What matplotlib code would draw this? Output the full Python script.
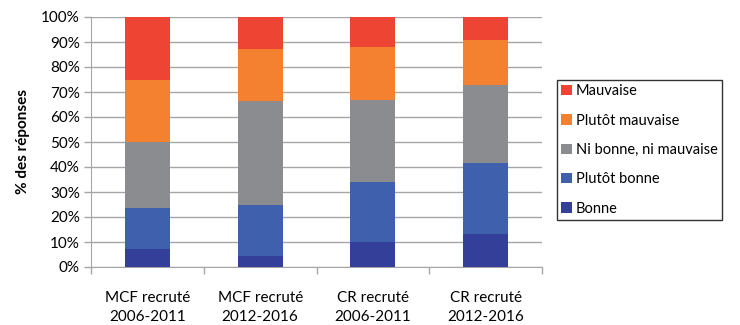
import numpy as np
import matplotlib.pyplot as plt

plt.rcParams['font.family'] = ['Lato', 'DejaVu Sans']

categories = ['MCF recruté\n2006-2011', 'MCF recruté\n2012-2016',
              'CR recruté\n2006-2011', 'CR recruté\n2012-2016']
series = ['Bonne', 'Plutôt bonne', 'Ni bonne, ni mauvaise', 'Plutôt mauvaise', 'Mauvaise']
bonne = [7.1, 4.3, 9.9, 13.2]
plutot_bonne = [16.6, 20.7, 24.3, 28.3]
ni_ni = [26.2, 41.6, 32.7, 31.5]
plutot_mauvaise = [24.8, 20.8, 21.1, 17.8]
mauvaise = [25.3, 12.6, 12.0, 9.2]
colors = ['#343f99', '#3f60ad', '#8b8c90', '#f48130', '#ee4434']

values = [bonne, plutot_bonne, ni_ni, plutot_mauvaise, mauvaise]

fig = plt.figure(figsize=(7.4, 3.25), dpi=100)
ax = fig.add_axes([91/740, 58/325, 451/740, 250/325])

x = np.arange(len(categories))
bottom = np.zeros(len(categories))
handles = []
for name, vals, c in zip(series, values, colors):
    b = ax.bar(x, vals, 0.4, bottom=bottom, color=c, label=name, zorder=3)
    handles.append(b)
    bottom += np.array(vals)

ax.set_xlim(-0.5, len(categories) - 0.5)
ax.set_ylim(0, 100)
ax.set_yticks(np.arange(0, 101, 10))
ax.set_yticklabels([f'{v}%' for v in range(0, 101, 10)], fontsize=11)
ax.yaxis.grid(True, color='#a6a6a6', linewidth=1, zorder=0)
ax.set_axisbelow(True)

ax.set_xticks(x)
ax.set_xticklabels(categories, fontsize=11, linespacing=1.45)
ax.tick_params(axis='x', length=0, pad=17)
ax.set_xticks(np.arange(-0.5, len(categories)), minor=True)
ax.tick_params(axis='x', which='minor', length=5, color='#a6a6a6', width=1)
ax.tick_params(axis='y', length=5, color='#a6a6a6', width=1, pad=3)

for s in ['top', 'right']:
    ax.spines[s].set_visible(False)
ax.spines['left'].set_color('#a6a6a6')
ax.spines['bottom'].set_color('#a6a6a6')

ax.set_ylabel('% des réponses', fontsize=11, fontweight='bold', labelpad=8)

leg = fig.legend(handles[::-1], series[::-1], loc='upper left',
                 bbox_to_anchor=(557/740, 1 - 80/325), fontsize=10.5,
                 frameon=True, fancybox=False, edgecolor='black',
                 handlelength=0.7, handleheight=0.7, handletextpad=0.3,
                 labelspacing=1.05, borderpad=0.3, borderaxespad=0)
leg.get_frame().set_linewidth(1)

fig.savefig('out.png', dpi=100)
